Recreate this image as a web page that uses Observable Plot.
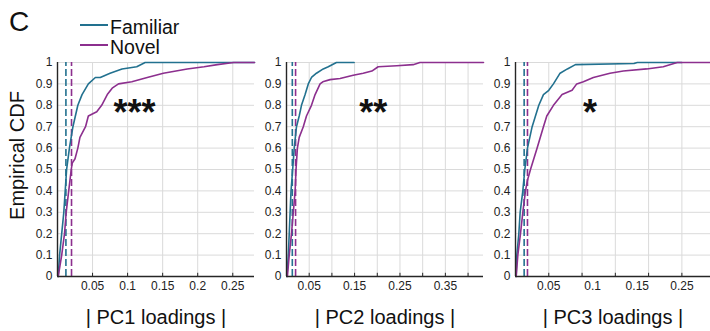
<!DOCTYPE html>
<html><head><meta charset="utf-8">
<script src="https://cdn.jsdelivr.net/npm/d3@7"></script>
<script src="https://cdn.jsdelivr.net/npm/@observablehq/plot@0.6"></script>
<style>
body{margin:0;background:#fff;}
#wrap{position:relative;width:710px;height:331px;overflow:hidden;font-family:"Liberation Sans",Arial,sans-serif;color:#111;background:#fff;}
.panel{position:absolute;top:0;}
#letter{position:absolute;left:9px;top:8px;font-size:28px;line-height:28px;}
.sw{position:absolute;left:80px;width:28px;height:2px;}
.lt{position:absolute;left:110px;font-size:19.5px;line-height:20px;white-space:nowrap;}
</style></head>
<body>
<div id="wrap">
  <div id="letter">C</div>
  <div class="sw" style="top:24px;background:#22718f"></div>
  <div class="lt" style="top:16.5px">Familiar</div>
  <div class="sw" style="top:44px;background:#8c2f8e"></div>
  <div class="lt" style="top:36.5px">Novel</div>
</div>
<script>
// ---- data ----
const seriesNames = ["Familiar", "Novel"];
const yTicks = [0, 0.1, 0.2, 0.3, 0.4, 0.5, 0.6, 0.7, 0.8, 0.9, 1];

const pc1Familiar = [[0.001,0],[0.003,0.1],[0.006,0.2],[0.009,0.3],[0.011,0.4],[0.013,0.5],[0.017,0.6],[0.022,0.7],[0.029,0.8],[0.035,0.85],[0.044,0.9],[0.054,0.93],[0.061,0.93],[0.075,0.95],[0.092,0.97],[0.113,0.98],[0.125,1],[0.281,1]];
const pc1Novel = [[0.001,0],[0.006,0.1],[0.010,0.2],[0.0124,0.3],[0.016,0.4],[0.0196,0.5],[0.021,0.53],[0.025,0.55],[0.029,0.6],[0.032,0.65],[0.040,0.7],[0.044,0.75],[0.056,0.77],[0.063,0.8],[0.071,0.85],[0.078,0.88],[0.087,0.9],[0.106,0.91],[0.128,0.93],[0.151,0.95],[0.185,0.97],[0.209,0.98],[0.228,0.99],[0.251,1],[0.281,1]];

const pc2Familiar = [[0.001,0],[0.004,0.1],[0.006,0.2],[0.008,0.3],[0.010,0.4],[0.0136,0.5],[0.017,0.6],[0.022,0.7],[0.028,0.75],[0.033,0.8],[0.041,0.85],[0.048,0.9],[0.055,0.93],[0.066,0.95],[0.081,0.97],[0.092,0.98],[0.11,1],[0.149,1]];
const pc2Novel = [[0.002,0],[0.006,0.1],[0.011,0.2],[0.015,0.3],[0.019,0.4],[0.021,0.5],[0.024,0.6],[0.028,0.65],[0.037,0.7],[0.044,0.75],[0.055,0.8],[0.063,0.85],[0.074,0.9],[0.080,0.91],[0.096,0.92],[0.118,0.925],[0.147,0.94],[0.169,0.95],[0.188,0.96],[0.202,0.98],[0.243,0.985],[0.279,0.99],[0.294,1],[0.434,1]];

const pc3Familiar = [[0.001,0],[0.002,0.1],[0.005,0.2],[0.007,0.3],[0.011,0.4],[0.014,0.5],[0.018,0.6],[0.025,0.7],[0.035,0.8],[0.042,0.85],[0.050,0.87],[0.057,0.9],[0.067,0.95],[0.078,0.97],[0.09,0.99],[0.178,0.995],[0.183,1],[0.25,1]];
const pc3Novel = [[0.001,0],[0.0035,0.1],[0.0075,0.2],[0.011,0.3],[0.015,0.4],[0.018,0.45],[0.0225,0.5],[0.0325,0.6],[0.042,0.7],[0.047,0.75],[0.057,0.8],[0.070,0.85],[0.085,0.87],[0.092,0.9],[0.102,0.91],[0.117,0.93],[0.142,0.95],[0.162,0.96],[0.197,0.97],[0.222,0.98],[0.243,1],[0.293,1]];

const medianFamiliar = [0.012, 0.0128, 0.013];
const medianNovel = [0.020, 0.020, 0.018];

const xDomainMax = [0.281, 0.434, 0.293];
const xGrid1 = [0.05, 0.1, 0.15, 0.2, 0.25];
const xGrid2 = [0.05, 0.1, 0.15, 0.2, 0.25, 0.3, 0.35, 0.4];
const xGrid3 = [0.05, 0.1, 0.15, 0.2, 0.25];
const xTickPos1 = [0.05, 0.1, 0.15, 0.2, 0.25];
const xTickLab1 = ["0.05", "0.1", "0.15", "0.2", "0.25"];
const xTickPos2 = [0.05, 0.15, 0.25, 0.35];
const xTickLab2 = ["0.05", "0.15", "0.25", "0.35"];
const xTickPos3 = [0.05, 0.116, 0.183, 0.25];
const xTickLab3 = ["0.05", "0.1", "0.15", "0.25"];

const xTitles = ["| PC1 loadings |", "| PC2 loadings |", "| PC3 loadings |"];
const starText = ["***", "**", "*"];
const starX = [0.110, 0.191, 0.112];
const starY = 0.71;
const yTitle = "Empirical CDF";

// ---- rendering ----
const FAM = "#22718f", NOV = "#8c2f8e", AX = "#262626", GRID = "#dadada";
const FONT = "Liberation Sans, Arial, sans-serif";

const panels = [
  {left: 0, width: 262, mr: 8, fam: pc1Familiar, nov: pc1Novel, grid: xGrid1, tp: xTickPos1, tl: xTickLab1},
  {left: 229, width: 262, mr: 8, fam: pc2Familiar, nov: pc2Novel, grid: xGrid2, tp: xTickPos2, tl: xTickLab2},
  {left: 458, width: 252, mr: 0, fam: pc3Familiar, nov: pc3Novel, grid: xGrid3, tp: xTickPos3, tl: xTickLab3}
];

const wrap = document.getElementById("wrap");
panels.forEach((p, i) => {
  const labMap = new Map(p.tp.map((v, j) => [v, p.tl[j]]));
  const marks = [
    Plot.gridX(p.grid, {stroke: GRID, strokeOpacity: 1, strokeWidth: 1}),
    Plot.gridY(yTicks.slice(1), {stroke: GRID, strokeOpacity: 1, strokeWidth: 1}),
    Plot.ruleX([medianFamiliar[i]], {y1: 0, y2: 1, stroke: FAM, strokeWidth: 1.6, strokeDasharray: "7,3"}),
    Plot.ruleX([medianNovel[i]], {y1: 0, y2: 1, stroke: NOV, strokeWidth: 1.6, strokeDasharray: "7,3"}),
    Plot.line(p.fam, {x: d => d[0], y: d => d[1], stroke: FAM, strokeWidth: 1.6}),
    Plot.line(p.nov, {x: d => d[0], y: d => d[1], stroke: NOV, strokeWidth: 1.6}),
    Plot.ruleX(p.grid, {y1: 0, y2: 0.015, stroke: AX, strokeWidth: 1}),
    Plot.ruleX([0], {stroke: AX, strokeWidth: 1.4}),
    Plot.ruleY([0], {stroke: AX, strokeWidth: 1.4}),
    Plot.axisY(yTicks, {tickSize: 0, tickPadding: 5, tickFormat: d => String(d), label: null, fontSize: 12}),
    Plot.axisX(p.tp, {tickSize: 0, tickPadding: 5, tickFormat: d => labMap.get(d), label: null, fontSize: 12}),
    Plot.text([starText[i]], {x: starX[i], y: starY, text: d => d, fontSize: 36, fontWeight: "bold", textAnchor: "middle", lineAnchor: "bottom", fill: "#111"}),
    Plot.text([xTitles[i]], {frameAnchor: "bottom", dy: 47, lineAnchor: "bottom", textAnchor: "middle", fontSize: 20, fill: "#111"})
  ];
  if (i === 0) {
    marks.push(Plot.text([yTitle], {frameAnchor: "left", rotate: -90, dx: -40, dy: -14, lineAnchor: "middle", textAnchor: "middle", fontSize: 20, fill: "#111"}));
  }
  const svg = Plot.plot({
    width: p.width,
    height: 331,
    marginLeft: 57,
    marginRight: p.mr,
    marginTop: 62,
    marginBottom: 55,
    x: {domain: [0, xDomainMax[i]]},
    y: {domain: [0, 1]},
    style: {background: "transparent", overflow: "visible", fontFamily: FONT, fontSize: "12px", color: "#222"},
    marks
  });
  svg.classList.add("panel");
  svg.style.left = p.left + "px";
  svg.style.position = "absolute";
  svg.style.top = "0px";
  wrap.appendChild(svg);
});
</script>
</body></html>
